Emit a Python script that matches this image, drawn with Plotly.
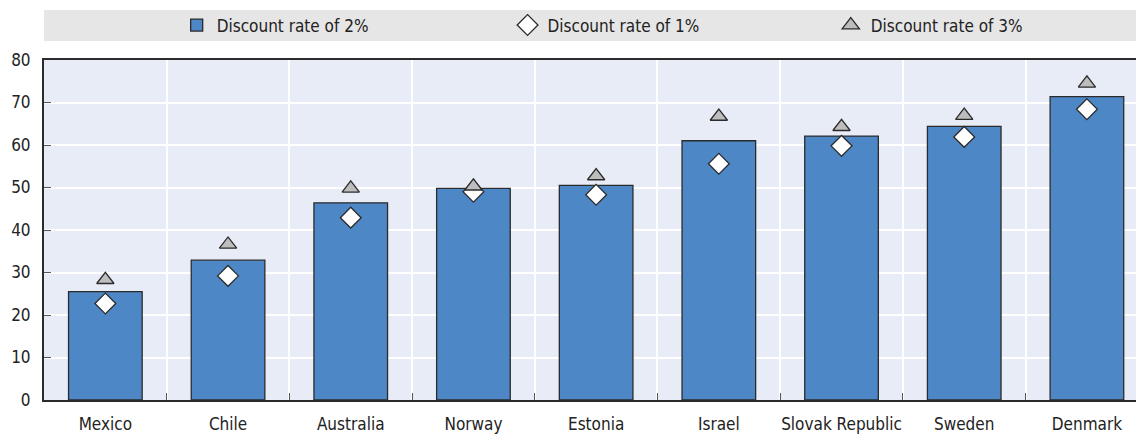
import plotly.graph_objects as go

countries = ["Mexico", "Chile", "Australia", "Norway", "Estonia", "Israel",
             "Slovak Republic", "Sweden", "Denmark"]
rate_2 = [25.5, 32.9, 46.4, 49.8, 50.5, 61.0, 62.1, 64.4, 71.4]
rate_1 = [22.7, 29.2, 42.9, 49.0, 48.3, 55.6, 59.8, 61.9, 68.4]
rate_3 = [28.3, 36.6, 49.8, 50.3, 52.7, 66.7, 64.3, 66.9, 74.5]

FONT = "DejaVu Sans Condensed, Liberation Sans Narrow, Arial Narrow, Liberation Sans, sans-serif"
TXT = "#222222"
EDGE = "#2b2b2b"

fig = go.Figure()
fig.add_trace(go.Bar(
    x=countries, y=rate_2, name="Discount rate of 2%", width=0.6, legend="legend",
    marker=dict(color="#4e87c6", line=dict(color=EDGE, width=1.3)),
))
fig.add_trace(go.Scatter(
    x=countries, y=rate_1, name="Discount rate of 1%", mode="markers", legend="legend2",
    marker=dict(symbol="diamond", size=16, color="white",
                line=dict(color=EDGE, width=1.3)),
))
fig.add_trace(go.Scatter(
    x=countries, y=rate_3, name="Discount rate of 3%", mode="markers", legend="legend3",
    marker=dict(symbol="triangle-up", size=15, color="#bdbdbd",
                line=dict(color=EDGE, width=1.3)),
))

PLOT_H = 340.0
def py(px):
    return (400 - px) / PLOT_H

def leg(x):
    return dict(orientation="h", x=x, xanchor="left", y=py(25.5), yanchor="middle",
                bgcolor="rgba(0,0,0,0)", font=dict(family=FONT, size=17, color=TXT),
                itemclick=False, itemdoubleclick=False)

fig.update_layout(
    width=1136, height=434,
    margin=dict(l=44, r=0, t=60, b=34, autoexpand=False),
    paper_bgcolor="white", plot_bgcolor="#e8ecf6",
    font=dict(family=FONT, size=17, color=TXT),
    showlegend=True,
    legend=leg(0.1215), legend2=leg(0.4245), legend3=leg(0.7205),
    shapes=[dict(type="rect", xref="paper", yref="paper", x0=0, x1=1,
                 y0=py(41), y1=py(10),
                 fillcolor="#e6e6e6", line=dict(width=0), layer="below")],
    xaxis=dict(type="category", range=[-0.5, 8.4], tickson="boundaries",
               tickangle=0, automargin=False, ticklabelstandoff=8,
               showgrid=True, gridcolor="white", gridwidth=1.5,
               showline=True, linecolor=EDGE, linewidth=2, mirror=True,
               ticks="inside", ticklen=7, tickcolor="#555555", tickwidth=1,
               tickfont=dict(family=FONT, size=17, color=TXT)),
    yaxis=dict(range=[0, 80], dtick=10, showgrid=True, gridcolor="white", gridwidth=1.5,
               showline=True, linecolor=EDGE, linewidth=2, automargin=False,
               ticklabelstandoff=8,
               ticks="inside", ticklen=7, tickcolor="#555555", tickwidth=1,
               zeroline=False,
               tickfont=dict(family=FONT, size=17, color=TXT)),
)

fig.write_html("out.html")
